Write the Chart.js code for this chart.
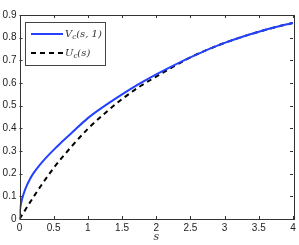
<!DOCTYPE html>
<html>
<head>
<meta charset="utf-8">
<script src="https://cdn.jsdelivr.net/npm/chart.js@4"></script>
<style>
  html, body { margin: 0; padding: 0; background: #fff; }
  #wrap { width: 299px; height: 245px; }
</style>
</head>
<body>
<div id="wrap"><canvas id="myChart" width="299" height="245"></canvas></div>
<script>
// values
const sValues = [0, 0.005, 0.01, 0.02, 0.04, 0.07, 0.1, 0.15, 0.2, 0.3, 0.4, 0.5, 0.6, 0.75, 1, 1.25, 1.5, 1.75, 2, 2.25, 2.5, 2.75, 3, 3.25, 3.5, 3.75, 4];
const vcValues = [0, 0.032, 0.046, 0.065, 0.091, 0.12, 0.143, 0.174, 0.2, 0.24, 0.274, 0.305, 0.334, 0.376, 0.445, 0.5, 0.55, 0.596, 0.638, 0.677, 0.713, 0.747, 0.777, 0.803, 0.826, 0.847, 0.865];
const sDash = [0, 0.25, 0.5, 0.75, 1, 1.25, 1.5, 1.75, 2, 2.25, 2.5, 2.75, 3, 3.25, 3.5, 3.75, 4];
const ucValues = [0, 0.118, 0.225, 0.316, 0.398, 0.467, 0.529, 0.583, 0.628, 0.672, 0.713, 0.747, 0.777, 0.803, 0.826, 0.847, 0.865];
const xTicks = [0, 0.5, 1, 1.5, 2, 2.5, 3, 3.5, 4];
const yTicks = [0, 0.1, 0.2, 0.3, 0.4, 0.5, 0.6, 0.7, 0.8, 0.9];

const blue = 'rgb(35,65,255)';

const toPts = (xs, ys) => xs.map((x, i) => ({ x: x, y: ys[i] }));

// box, inward ticks, legend and axis title
const matlabLook = {
    id: 'matlabLook',
    afterDraw(chart) {
        const c = chart.ctx;
        const a = chart.chartArea;
        const xs = chart.scales.x, ys = chart.scales.y;
        c.save();
        c.strokeStyle = '#333';
        c.lineWidth = 1;
        c.beginPath();
        xTicks.forEach(t => {
            const px = Math.round(xs.getPixelForValue(t)) + 0.5;
            c.moveTo(px, a.bottom); c.lineTo(px, a.bottom - 3);
            c.moveTo(px, a.top); c.lineTo(px, a.top + 3);
        });
        yTicks.forEach(t => {
            const py = Math.round(ys.getPixelForValue(t)) + 0.5;
            c.moveTo(a.left, py); c.lineTo(a.left + 3, py);
            c.moveTo(a.right, py); c.lineTo(a.right - 3, py);
        });
        c.stroke();
        c.strokeRect(Math.round(a.left) + 0.5, Math.round(a.top) + 0.5,
            Math.round(a.right - a.left), Math.round(a.bottom - a.top));

        // legend
        c.fillStyle = '#fff';
        c.fillRect(25, 22, 80, 43);
        c.strokeStyle = '#444';
        c.strokeRect(25.5, 22.5, 80, 43);
        c.lineWidth = 2;
        c.strokeStyle = blue;
        c.beginPath(); c.moveTo(31, 34); c.lineTo(63, 34); c.stroke();
        c.strokeStyle = '#000';
        c.setLineDash([5, 4]);
        c.beginPath(); c.moveTo(31, 53); c.lineTo(63, 53); c.stroke();
        c.setLineDash([]);

        c.fillStyle = '#333';
        c.textBaseline = 'middle';
        const mathText = (x, y, main, sub, rest) => {
            c.font = 'italic 10px "DejaVu Serif"';
            c.fillText(main, x, y);
            x += c.measureText(main).width;
            c.font = 'italic 7px "DejaVu Serif"';
            c.fillText(sub, x, y + 3);
            x += c.measureText(sub).width;
            c.font = 'italic 10px "DejaVu Serif"';
            c.fillText(rest, x, y);
        };
        mathText(65, 34, 'V', 'c', '(s, 1)');
        mathText(65, 53, 'U', 'c', '(s)');

        // axis title
        c.font = 'italic 11px "DejaVu Serif"';
        c.textAlign = 'center';
        c.fillText('s', xs.getPixelForValue(2), 237);
        c.restore();
    }
};

new Chart(document.getElementById('myChart'), {
    type: 'line',
    data: {
        datasets: [{
            label: 'Vc(s,1)',
            data: toPts(sValues, vcValues),
            borderColor: blue,
            borderWidth: 2,
            pointRadius: 0,
            cubicInterpolationMode: 'monotone'
        }, {
            label: 'Uc(s)',
            data: toPts(sDash, ucValues),
            borderColor: '#000',
            borderWidth: 2,
            borderDash: [5, 4],
            pointRadius: 0,
            cubicInterpolationMode: 'monotone'
        }]
    },
    options: {
        responsive: false,
        animation: false,
        layout: { padding: { top: 15, right: 6, left: 0, bottom: 0 } },
        plugins: { legend: { display: false }, tooltip: { enabled: false } },
        scales: {
            x: {
                type: 'linear',
                min: 0, max: 4,
                afterBuildTicks: s => { s.ticks = xTicks.map(v => ({ value: v })); },
                afterFit: s => { s.height = 26; },
                grid: { display: false, drawTicks: false, tickLength: 0 },
                border: { display: false },
                ticks: {
                    padding: 3,
                    color: '#222',
                    font: { family: '"Liberation Sans", Arial', size: 10 },
                    maxRotation: 0,
                    callback: v => String(v)
                }
            },
            y: {
                min: 0, max: 0.9,
                afterBuildTicks: s => { s.ticks = yTicks.map(v => ({ value: v })); },
                afterFit: s => { s.width = 19.5; },
                grid: { display: false, drawTicks: false, tickLength: 0 },
                border: { display: false },
                ticks: {
                    padding: 3,
                    color: '#222',
                    font: { family: '"Liberation Sans", Arial', size: 10 },
                    callback: v => String(Number(v.toFixed(1)))
                }
            }
        }
    },
    plugins: [matlabLook]
});
</script>
</body>
</html>
